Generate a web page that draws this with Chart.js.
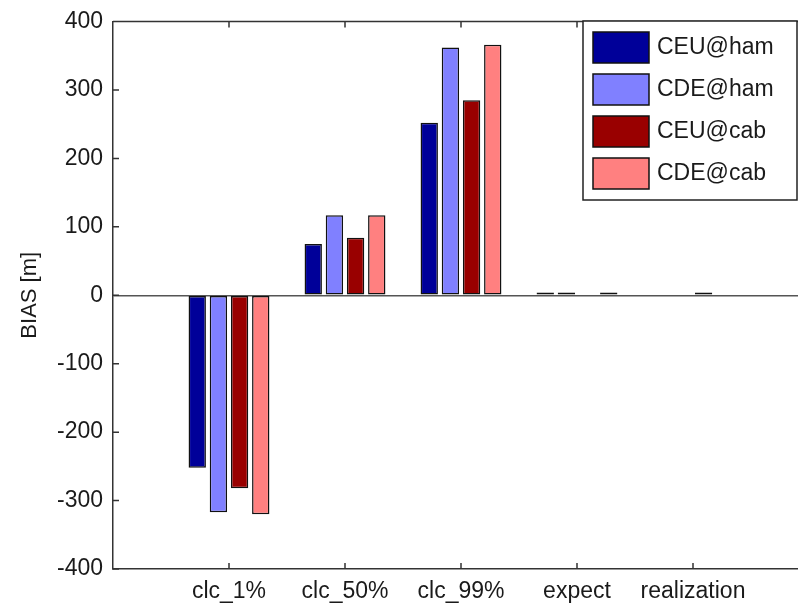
<!DOCTYPE html>
<html>
<head>
<meta charset="utf-8">
<script src="https://cdn.jsdelivr.net/npm/chart.js@4"></script>
<style>
  html, body { margin: 0; padding: 0; overflow: hidden; background: #fff; }
  #wrap { width: 798px; height: 607px; overflow: hidden; }
</style>
</head>
<body>
<div id="wrap"><canvas id="bias" width="812" height="607"></canvas></div>
<script>
// categories and series (BIAS in m)
const categories = ['clc_1%', 'clc_50%', 'clc_99%', 'expect', 'realization'];
const seriesNames = ['CEU@ham', 'CDE@ham', 'CEU@cab', 'CDE@cab'];
const ceuHam = [-252, 75, 252, 4, 0];
const cdeHam = [-317, 117, 362, 4, 0];
const ceuCab = [-282, 84, 285, 0, 4];
const cdeCab = [-320, 117, 366, 4, 0];
const yTicks = [-400, -300, -200, -100, 0, 100, 200, 300, 400];

const colors = ['#000099', '#8080ff', '#990000', '#ff8080'];
const FONT = 'Liberation Sans, Arial, sans-serif';

function toPoints(values) {
    return values.map((v, i) => ({ x: i + 1, y: v }));
}

const datasets = [ceuHam, cdeHam, ceuCab, cdeCab].map((vals, i) => ({
    label: seriesNames[i],
    data: toPoints(vals),
    backgroundColor: colors[i],
    borderColor: '#111',
    borderWidth: 1.5,
    borderSkipped: false,
    categoryPercentage: 0.73,
    barPercentage: 0.82
}));

// matlab-like frame: top border, inward ticks, legend box
const matlabFrame = {
    id: 'matlabFrame',
    afterDraw(chart) {
        const ctx = chart.ctx;
        const area = chart.chartArea;
        const x = chart.scales.x, y = chart.scales.y;
        ctx.save();
        ctx.strokeStyle = '#333';
        ctx.lineWidth = 1.5;
        ctx.beginPath();
        ctx.moveTo(area.left, area.top);
        ctx.lineTo(area.right, area.top);
        ctx.lineTo(area.right, area.bottom);
        // inward ticks
        yTicks.forEach(v => {
            const py = y.getPixelForValue(v);
            ctx.moveTo(area.left, py); ctx.lineTo(area.left + 6, py);
            ctx.moveTo(area.right, py); ctx.lineTo(area.right - 6, py);
        });
        categories.forEach((c, i) => {
            const px = x.getPixelForValue(i + 1);
            ctx.moveTo(px, area.bottom); ctx.lineTo(px, area.bottom - 6);
            ctx.moveTo(px, area.top); ctx.lineTo(px, area.top + 6);
        });
        ctx.stroke();

        // legend
        const lx = 583, ly = 21, lw = 214, lh = 179;
        ctx.fillStyle = '#fff';
        ctx.fillRect(lx, ly, lw, lh);
        ctx.strokeStyle = '#222';
        ctx.lineWidth = 1.5;
        ctx.strokeRect(lx, ly, lw, lh);
        ctx.font = '23px ' + FONT;
        ctx.textBaseline = 'middle';
        ctx.textAlign = 'left';
        chart.data.datasets.forEach((ds, i) => {
            const cy = 47.5 + i * 42;
            ctx.fillStyle = ds.backgroundColor;
            ctx.fillRect(593, cy - 15.5, 56, 31);
            ctx.strokeStyle = '#111';
            ctx.strokeRect(593, cy - 15.5, 56, 31);
            ctx.fillStyle = '#1a1a1a';
            ctx.fillText(ds.label, 657, cy);
        });
        ctx.restore();
    }
};

new Chart(document.getElementById('bias').getContext('2d'), {
    type: 'bar',
    data: { datasets: datasets },
    options: {
        responsive: false,
        animation: false,
        layout: { padding: { top: 19.5, right: 3, left: 0, bottom: 0 } },
        plugins: {
            legend: { display: false },
            tooltip: { enabled: false }
        },
        scales: {
            x: {
                type: 'linear',
                min: 0,
                max: 6,
                offset: false,
                afterBuildTicks: axis => {
                    axis.ticks = categories.map((c, i) => ({ value: i + 1 }));
                },
                afterFit: axis => { axis.height = 38; },
                ticks: {
                    autoSkip: false,
                    maxRotation: 0,
                    padding: 9,
                    color: '#1a1a1a',
                    font: { family: FONT, size: 23 },
                    callback: v => categories[v - 1] || ''
                },
                grid: { display: false, offset: false, drawTicks: false },
                border: { display: true, color: '#333', width: 1.5 }
            },
            y: {
                min: -400,
                max: 400,
                afterBuildTicks: axis => {
                    axis.ticks = yTicks.map(v => ({ value: v }));
                },
                afterFit: axis => { axis.width = 113; },
                ticks: {
                    padding: 10,
                    color: '#1a1a1a',
                    font: { family: FONT, size: 23, lineHeight: 1 }
                },
                grid: {
                    drawTicks: false,
                    color: c => (c.tick && c.tick.value === 0) ? '#555' : 'rgba(0,0,0,0)',
                    lineWidth: 1.5
                },
                border: { display: true, color: '#333', width: 1.5 },
                title: {
                    display: true,
                    text: 'BIAS [m]',
                    color: '#1a1a1a',
                    font: { family: FONT, size: 22 },
                    padding: { top: 17, bottom: 0 }
                }
            }
        }
    },
    plugins: [matlabFrame]
});
</script>
</body>
</html>
